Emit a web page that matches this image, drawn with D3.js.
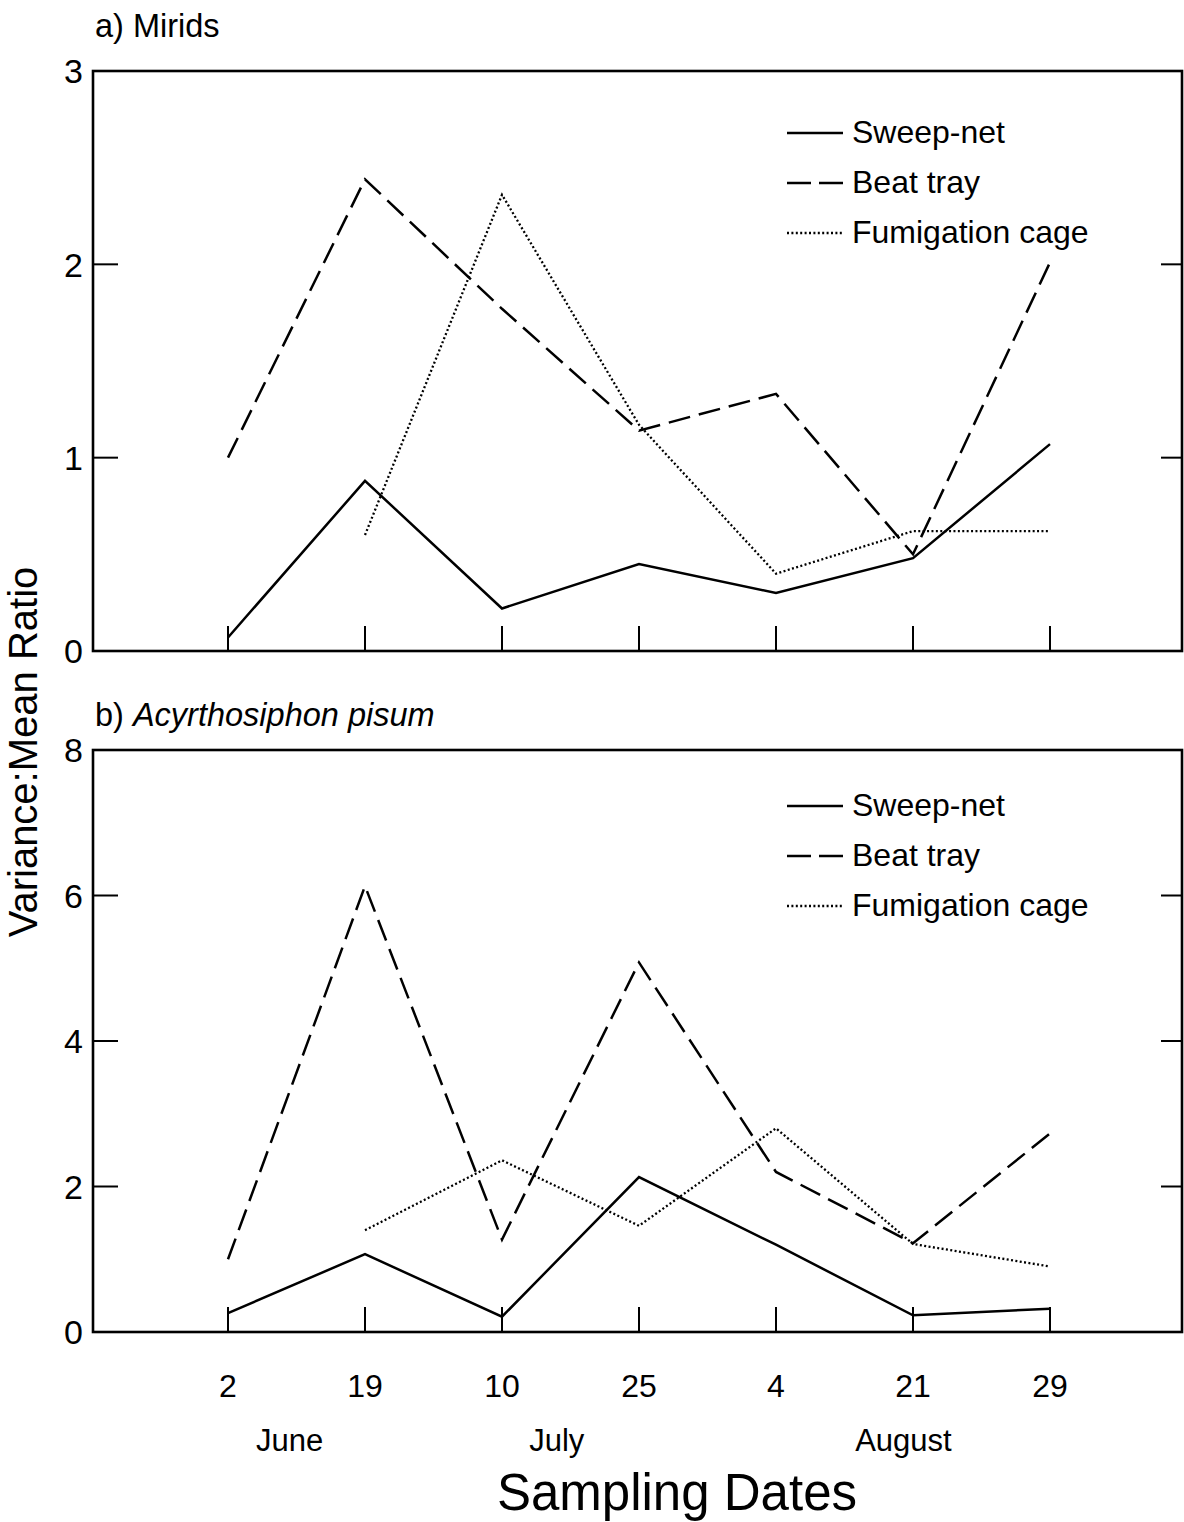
<!DOCTYPE html>
<html>
<head>
<meta charset="utf-8">
<script src="https://cdn.jsdelivr.net/npm/d3@7"></script>
<style>
  html, body { margin: 0; padding: 0; background: #fff; }
  svg { display: block; font-family: "Liberation Sans", Arial, Helvetica, sans-serif; }
</style>
</head>
<body>
<script>
// Sampling dates (day of month), shared by both panels
const dates = ["2", "19", "10", "25", "4", "21", "29"];
const months = ["June", "July", "August"];

// Series names
const methods = ["Sweep-net", "Beat tray", "Fumigation cage"];

// a) Mirids: variance:mean ratios
const miridsSweep      = [0.07, 0.88, 0.22, 0.45, 0.30, 0.48, 1.07];
const miridsBeat       = [1.00, 2.44, 1.77, 1.14, 1.33, 0.50, 2.01];
const miridsFumigation = [null, 0.60, 2.36, 1.17, 0.40, 0.62, 0.62];

// b) Acyrthosiphon pisum: variance:mean ratios
const pisumSweep      = [0.26, 1.07, 0.21, 2.13, 1.20, 0.23, 0.32];
const pisumBeat       = [1.00, 6.13, 1.27, 5.08, 2.20, 1.22, 2.73];
const pisumFumigation = [null, 1.40, 2.36, 1.46, 2.80, 1.21, 0.90];

// Y tick values
const miridsTicks = [0, 1, 2, 3];
const pisumTicks  = [0, 2, 4, 6, 8];

// ---- layout ----
const W = 1184, H = 1522;
const left = 93, right = 1182;
const monthAnchor = [0.45, 2.4, 4.93];   // month label positions in date-index units
const styles = {
  "Sweep-net":       { dash: null,    width: 2.5 },
  "Beat tray":       { dash: "22,9",  width: 2.5 },
  "Fumigation cage": { dash: "2,2.4", width: 2.3 }
};

const svg = d3.select("body").append("svg")
  .attr("width", W).attr("height", H);

const x = d3.scalePoint().domain(d3.range(dates.length)).range([228, 1050]);
const xi = d3.scaleLinear().domain([0, dates.length - 1]).range([228, 1050]);

const panels = [
  {
    top: 71, bottom: 651, max: 3, ticks: miridsTicks,
    label: [{ t: "a) Mirids", italic: false }],
    labelY: 37, legendY: 133,
    series: [miridsSweep, miridsBeat, miridsFumigation]
  },
  {
    top: 750, bottom: 1332, max: 8, ticks: pisumTicks,
    label: [{ t: "b) ", italic: false }, { t: "Acyrthosiphon pisum", italic: true }],
    labelY: 726, legendY: 806,
    series: [pisumSweep, pisumBeat, pisumFumigation]
  }
];

panels.forEach(p => {
  const y = d3.scaleLinear().domain([0, p.max]).range([p.bottom, p.top]);
  const g = svg.append("g");

  // panel heading
  const title = g.append("text")
    .attr("x", 95).attr("y", p.labelY)
    .attr("font-size", 32.5).attr("fill", "#000");
  p.label.forEach(s => title.append("tspan")
    .attr("font-style", s.italic ? "italic" : "normal")
    .text(s.t));

  // data lines
  const line = d3.line()
    .defined(d => d != null)
    .x((d, i) => x(i))
    .y(d => y(d));

  p.series.forEach((vals, k) => {
    const st = styles[methods[k]];
    g.append("path")
      .datum(vals)
      .attr("d", line)
      .attr("fill", "none")
      .attr("stroke", "#000")
      .attr("stroke-width", st.width)
      .attr("stroke-linejoin", "miter")
      .attr("stroke-dasharray", st.dash);
  });

  // frame
  g.append("rect")
    .attr("x", left).attr("y", p.top)
    .attr("width", right - left).attr("height", p.bottom - p.top)
    .attr("fill", "none").attr("stroke", "#000").attr("stroke-width", 2.6);

  // y ticks (inward, both sides) and labels
  g.selectAll(".yl").data(p.ticks).join("line")
    .attr("x1", left).attr("x2", left + 25)
    .attr("y1", d => y(d)).attr("y2", d => y(d))
    .attr("stroke", "#000").attr("stroke-width", 2);
  g.selectAll(".yr").data(p.ticks).join("line")
    .attr("x1", right - 21).attr("x2", right)
    .attr("y1", d => y(d)).attr("y2", d => y(d))
    .attr("stroke", "#000").attr("stroke-width", 2);
  g.selectAll(".ylab").data(p.ticks).join("text")
    .attr("x", 83).attr("y", d => y(d))
    .attr("dy", "0.36em")
    .attr("text-anchor", "end")
    .attr("font-size", 34).attr("fill", "#000")
    .text(d => d);

  // x ticks (inward from the bottom)
  g.selectAll(".xt").data(d3.range(dates.length)).join("line")
    .attr("x1", d => x(d)).attr("x2", d => x(d))
    .attr("y1", p.bottom).attr("y2", p.bottom - 25)
    .attr("stroke", "#000").attr("stroke-width", 2);

  // legend
  methods.forEach((m, k) => {
    const ly = p.legendY + k * 50;
    const st = styles[m];
    g.append("line")
      .attr("x1", 787).attr("x2", 843)
      .attr("y1", ly).attr("y2", ly)
      .attr("stroke", "#000").attr("stroke-width", st.width)
      .attr("stroke-dasharray", m === "Beat tray" ? "24,8" : st.dash);
    g.append("text")
      .attr("x", 852).attr("y", ly + 10)
      .attr("font-size", 32).attr("fill", "#000")
      .text(m);
  });
});

// x-axis date labels (under the lower panel)
svg.append("g").selectAll("text").data(dates).join("text")
  .attr("x", (d, i) => x(i)).attr("y", 1397)
  .attr("text-anchor", "middle")
  .attr("font-size", 32).attr("fill", "#000")
  .text(d => d);

svg.append("g").selectAll("text").data(months).join("text")
  .attr("x", (d, i) => xi(monthAnchor[i])).attr("y", 1451)
  .attr("text-anchor", "middle")
  .attr("font-size", 31).attr("fill", "#000")
  .text(d => d);

svg.append("text")
  .attr("x", 677).attr("y", 1510)
  .attr("text-anchor", "middle")
  .attr("font-size", 51).attr("fill", "#000")
  .text("Sampling Dates");

svg.append("text")
  .attr("transform", "translate(37,752) rotate(-90)")
  .attr("text-anchor", "middle")
  .attr("font-size", 40).attr("fill", "#000")
  .text("Variance:Mean Ratio");
</script>
</body>
</html>
